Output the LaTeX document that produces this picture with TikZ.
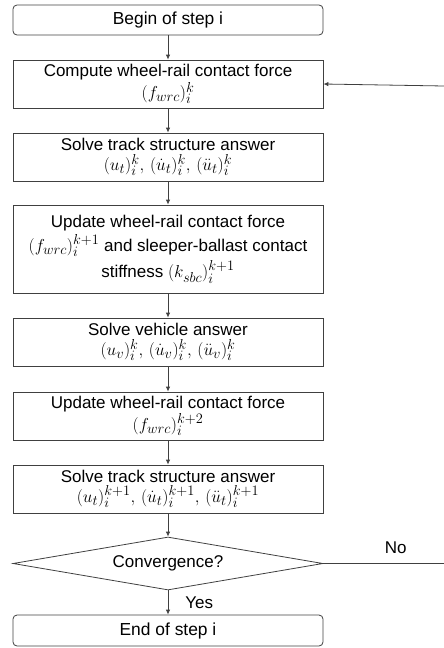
\documentclass[tikz,border=0pt]{standalone}
\usepackage{fontspec}
\setmainfont{Liberation Sans}
\usetikzlibrary{shapes.geometric,arrows.meta}
\definecolor{edge}{HTML}{404040}
% formulas are set a little larger than the surrounding sans text
\newcommand{\mth}[1]{{\fontsize{19}{19}\selectfont$#1$}}
\tikzset{
  box/.style={draw=edge, line width=0.8pt, rectangle, minimum width=310pt, inner sep=0pt, align=center, font=\fontsize{17}{19}\selectfont},
  term/.style={box, rounded corners=4pt, font=\fontsize{17.4}{19}\selectfont},
  decide/.style={draw=edge, line width=0.8pt, diamond, aspect=5.85, minimum width=310pt, minimum height=53pt, inner sep=0pt, font=\fontsize{17}{19}\selectfont},
  flow/.style={draw=edge, line width=0.8pt, -{Latex[length=5pt,width=4.5pt]}},
  lbl/.style={inner sep=0pt, font=\fontsize{17}{19}\selectfont}
}
\begin{document}
\begin{tikzpicture}[x=1pt,y=-1pt]
\useasboundingbox (0,0) rectangle (444,648);
\node[term, minimum height=30pt] (begin) at (168,20) {Begin of step i};
\node[box, minimum height=48pt] (compute) at (168,84) {Compute wheel-rail contact force\\[1pt] \mth{(f_{wrc})_i^k}};
\node[box, minimum height=48pt] (trackA) at (168,157) {Solve track structure answer\\[1pt] \mth{(u_t)_i^k,\,(\dot u_t)_i^k,\,(\ddot u_t)_i^k}};
\node[box, minimum height=88pt] (update) at (168,249) {Update wheel-rail contact force\\[3pt] \mth{(f_{wrc})_i^{k+1}} and sleeper-ballast contact\\[3pt] stiffness \mth{(k_{sbc})_i^{k+1}}};
\node[box, minimum height=48pt] (vehicle) at (168,342) {Solve vehicle answer\\[1pt] \mth{(u_v)_i^k,\,(\dot u_v)_i^k,\,(\ddot u_v)_i^k}};
\node[box, minimum height=48pt] (updateB) at (168,416) {Update wheel-rail contact force\\[1pt] \mth{(f_{wrc})_i^{k+2}}};
\node[box, minimum height=48pt] (trackB) at (168,489) {Solve track structure answer\\[1pt] \mth{(u_t)_i^{k+1},\,(\dot u_t)_i^{k+1},\,(\ddot u_t)_i^{k+1}}};
\node[decide] (conv) at (168,563.5) {Convergence?};
\node[term, minimum height=31pt] (end) at (168,630.5) {End of step i};
\coordinate (loopout) at (444,563.5);
\coordinate (loopin) at (444,86);
\draw[flow] (begin) -- (compute);
\draw[flow] (compute) -- (trackA);
\draw[flow] (trackA) -- (update);
\draw[flow] (update) -- (vehicle);
\draw[flow] (vehicle) -- (updateB);
\draw[flow] (updateB) -- (trackB);
\draw[flow] (trackB) -- (conv);
\draw[flow] (conv) -- node[lbl, pos=0.5, anchor=west, xshift=17pt] (yes) {Yes} (end);
\draw[draw=edge, line width=0.8pt] (conv.east) -- node[lbl, pos=0.6, anchor=south, yshift=9pt] (no) {No} (loopout);
\draw[flow] (loopin) -- (compute.east);
\end{tikzpicture}
\end{document}
